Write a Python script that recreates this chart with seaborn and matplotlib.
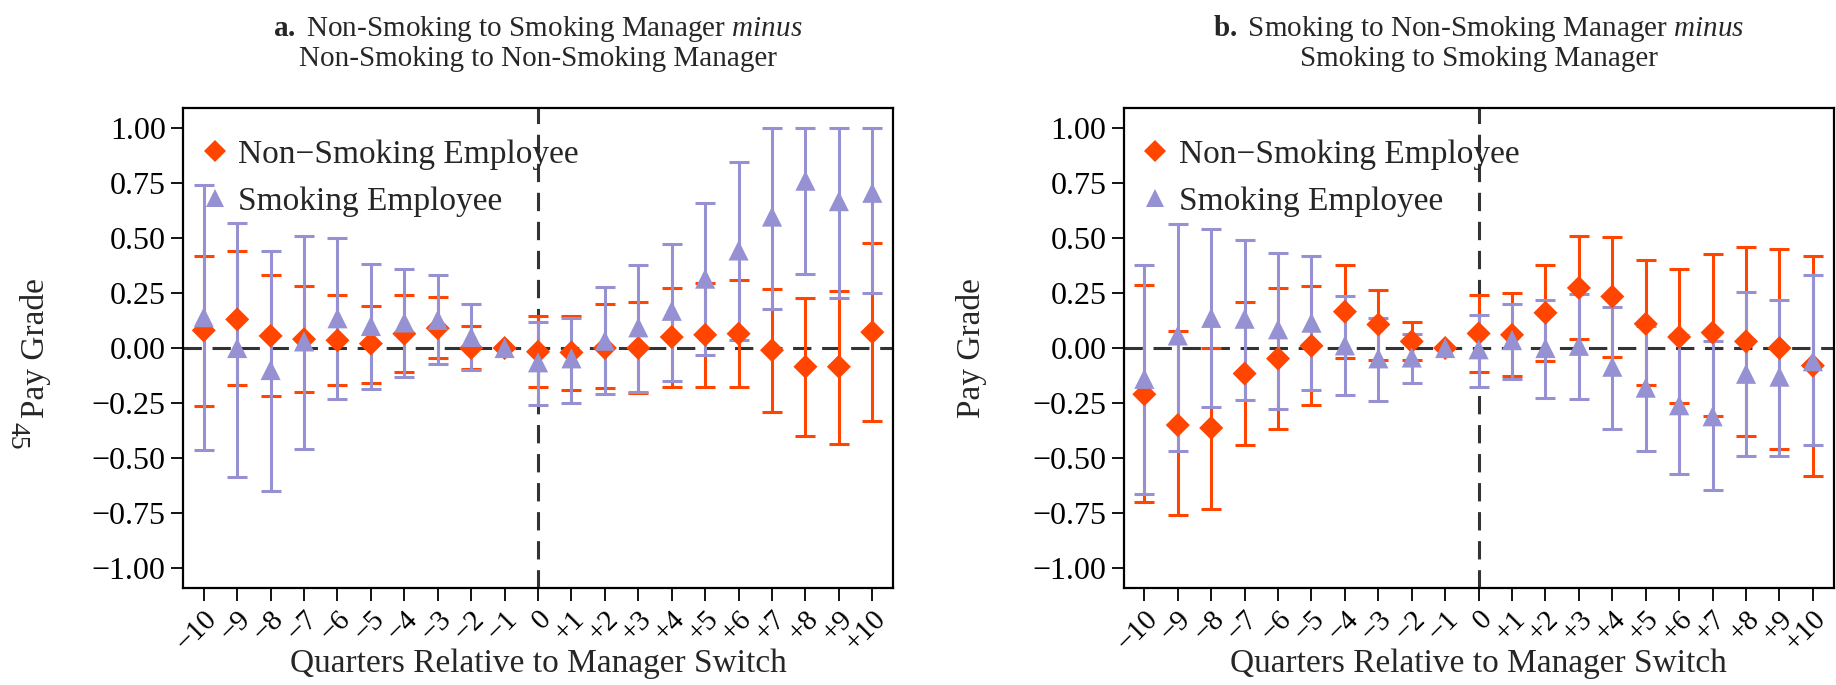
import numpy as np
import pandas as pd
import seaborn as sns
import matplotlib.pyplot as plt
from matplotlib.lines import Line2D

# Quarters relative to the manager switch
quarters = list(range(-10, 11))
tick_labels = ["\u2212%d" % abs(q) if q < 0 else ("0" if q == 0 else "+%d" % q) for q in quarters]

# Panel a: Non-Smoking -> Smoking manager minus Non-Smoking -> Non-Smoking manager
a_non_est = [0.08, 0.13, 0.055, 0.04, 0.035, 0.02, 0.065, 0.09, 0.0, 0.0, -0.017,
             -0.02, 0.0, 0.0, 0.05, 0.06, 0.065, -0.01, -0.085, -0.085, 0.072]
a_non_lo = [-0.265, -0.17, -0.22, -0.20, -0.17, -0.16, -0.11, -0.047, -0.096, 0.0, -0.178,
            -0.19, -0.18, -0.204, -0.175, -0.178, -0.178, -0.29, -0.40, -0.434, -0.333]
a_non_hi = [0.42, 0.44, 0.33, 0.28, 0.24, 0.19, 0.24, 0.23, 0.10, 0.0, 0.146,
            0.146, 0.198, 0.208, 0.273, 0.294, 0.31, 0.267, 0.226, 0.257, 0.478]
a_smk_est = [0.14, 0.0, -0.10, 0.03, 0.135, 0.10, 0.116, 0.128, 0.05, 0.0, -0.065,
             -0.047, 0.033, 0.094, 0.169, 0.315, 0.443, 0.597, 0.76, 0.667, 0.705]
a_smk_lo = [-0.465, -0.587, -0.65, -0.46, -0.23, -0.185, -0.13, -0.074, -0.10, 0.0, -0.26,
            -0.25, -0.21, -0.198, -0.148, -0.03, 0.038, 0.175, 0.337, 0.228, 0.252]
a_smk_hi = [0.74, 0.57, 0.44, 0.51, 0.50, 0.38, 0.36, 0.33, 0.20, 0.0, 0.12,
            0.136, 0.275, 0.377, 0.473, 0.66, 0.845, 1.0, 1.0, 1.0, 1.0]

# Panel b: Smoking -> Non-Smoking manager minus Smoking -> Smoking manager
b_non_est = [-0.21, -0.35, -0.363, -0.116, -0.048, 0.01, 0.165, 0.107, 0.03, 0.0, 0.066,
             0.06, 0.16, 0.273, 0.234, 0.11, 0.05, 0.07, 0.03, 0.0, -0.08]
b_non_lo = [-0.70, -0.76, -0.73, -0.44, -0.368, -0.26, -0.044, -0.053, -0.055, 0.0, -0.107,
            -0.128, -0.057, 0.04, -0.04, -0.17, -0.25, -0.31, -0.40, -0.46, -0.58]
b_non_hi = [0.286, 0.076, 0.0, 0.21, 0.273, 0.28, 0.375, 0.264, 0.12, 0.0, 0.24,
            0.248, 0.377, 0.51, 0.505, 0.40, 0.36, 0.425, 0.46, 0.45, 0.42]
b_smk_est = [-0.14, 0.057, 0.137, 0.133, 0.085, 0.115, 0.012, -0.047, -0.043, 0.0, -0.006,
             0.036, 0.0, 0.01, -0.085, -0.18, -0.26, -0.31, -0.117, -0.13, -0.06]
b_smk_lo = [-0.663, -0.467, -0.267, -0.237, -0.277, -0.19, -0.213, -0.24, -0.16, 0.0, -0.178,
            -0.143, -0.228, -0.23, -0.367, -0.47, -0.57, -0.645, -0.49, -0.49, -0.44]
b_smk_hi = [0.377, 0.563, 0.54, 0.49, 0.43, 0.416, 0.236, 0.135, 0.062, 0.0, 0.152,
            0.198, 0.218, 0.244, 0.186, 0.10, 0.06, 0.03, 0.255, 0.22, 0.33]

groups = ["Non\u2212Smoking Employee", "Smoking Employee"]
y_ticks = [1.0, 0.75, 0.5, 0.25, 0.0, -0.25, -0.5, -0.75, -1.0]

ORANGE = "#ff4500"
PURPLE = "#9691d2"

sns.set_theme(style="ticks")
plt.rcParams["font.family"] = ["Liberation Serif", "DejaVu Serif"]
plt.rcParams["mathtext.fontset"] = "custom"
plt.rcParams["mathtext.rm"] = "Liberation Serif"
plt.rcParams["mathtext.it"] = "Liberation Serif:italic"
plt.rcParams["mathtext.bf"] = "Liberation Serif:bold"


def make_frame(non_est, non_lo, non_hi, smk_est, smk_lo, smk_hi):
    rows = []
    for g, est, lo, hi in [(groups[0], non_est, non_lo, non_hi),
                           (groups[1], smk_est, smk_lo, smk_hi)]:
        for q, e, l, h in zip(quarters, est, lo, hi):
            rows.append({"quarter": q, "group": g, "est": e, "lo": l, "hi": h})
    return pd.DataFrame(rows)


def fmt_tick(v):
    s = "%.2f" % abs(v)
    return ("\u2212" + s) if v < 0 else s


def draw_panel(ax, df, title, ylab_x):
    ax.axhline(0, color="#333333", lw=2.2, ls=(0, (6, 3.5)), zorder=1)
    ax.axvline(0, color="#333333", lw=2.2, ls=(0, (6, 3.5)), zorder=1)
    for g, c, z in [(groups[0], ORANGE, 2), (groups[1], PURPLE, 4)]:
        d = df[df["group"] == g]
        yerr = np.vstack([d["est"] - d["lo"], d["hi"] - d["est"]])
        ax.errorbar(d["quarter"], d["est"], yerr=yerr, fmt="none", ecolor=c,
                    elinewidth=2.2, capsize=7.5, capthick=2.2, zorder=z)
    sns.scatterplot(data=df, x="quarter", y="est", hue="group", style="group",
                    palette={groups[0]: ORANGE, groups[1]: PURPLE},
                    markers={groups[0]: "D", groups[1]: "^"},
                    size="group", sizes={groups[0]: 150, groups[1]: 210},
                    linewidth=0, legend=False, ax=ax, zorder=5)
    ax.set_xlim(-10.62, 10.62)
    ax.set_ylim(-1.09, 1.09)
    ax.set_xticks(quarters)
    ax.set_xticklabels(tick_labels, rotation=45, ha="right", rotation_mode="anchor",
                       fontsize=21)
    ax.set_yticks(y_ticks)
    ax.set_yticklabels([fmt_tick(v) for v in y_ticks], fontsize=23)
    ax.tick_params(axis="both", direction="out", length=9, width=1.3, colors="black")
    ax.tick_params(axis="x", pad=4)
    for s in ax.spines.values():
        s.set_visible(True)
        s.set_linewidth(1.6)
        s.set_color("black")
    ax.set_xlabel("Quarters Relative to Manager Switch", fontsize=24, va="center")
    ax.xaxis.set_label_coords(0.5, -0.158)
    ax.set_ylabel("Pay Grade", fontsize=24, va="center")
    ax.yaxis.set_label_coords(ylab_x, 0.5)
    ax.set_title(title, fontsize=21, pad=30, linespacing=1.12)
    handles = [Line2D([], [], ls="none", marker="D", ms=11, color=ORANGE, mew=0),
               Line2D([], [], ls="none", marker="^", ms=13.5, color=PURPLE, mew=0)]
    ax.legend(handles, groups, loc="upper left", bbox_to_anchor=(-0.014, 0.99),
              frameon=False, fontsize=24, handlelength=0.9, handletextpad=0.25,
              labelspacing=0.5, borderaxespad=0.5, borderpad=0.3)


fig = plt.figure(figsize=(18.36, 6.85), dpi=100)
ax1 = fig.add_axes([0.0997, 0.1416, 0.3867, 0.7007])
ax2 = fig.add_axes([0.612, 0.1416, 0.3867, 0.7007])

df_a = make_frame(a_non_est, a_non_lo, a_non_hi, a_smk_est, a_smk_lo, a_smk_hi)
df_b = make_frame(b_non_est, b_non_lo, b_non_hi, b_smk_est, b_smk_lo, b_smk_hi)

draw_panel(ax1, df_a, r"$\bf{a.}$ Non-Smoking to Smoking Manager $\it{minus}$"
           "\nNon-Smoking to Non-Smoking Manager", -0.208)
draw_panel(ax2, df_b, r"$\bf{b.}$ Smoking to Non-Smoking Manager $\it{minus}$"
           "\nSmoking to Smoking Manager", -0.214)

# page number at the left margin
fig.text(17 / 1836, 1 - 436 / 685, "45", rotation=-90, fontsize=20,
         ha="center", va="center")

fig.savefig("out.png", dpi=100)
